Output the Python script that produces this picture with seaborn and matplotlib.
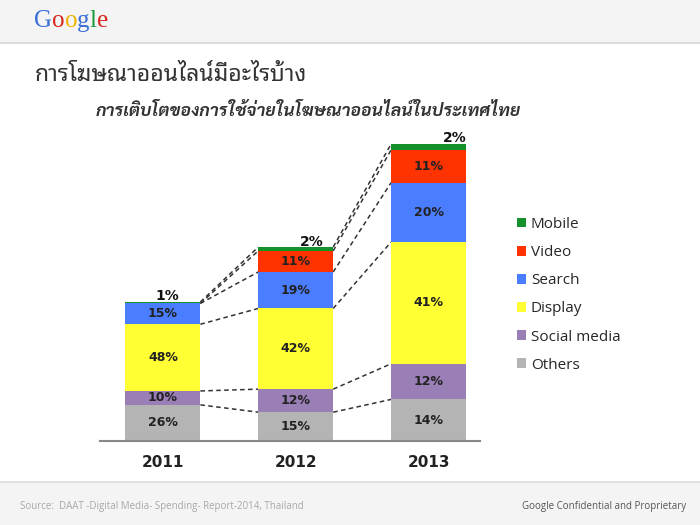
import matplotlib
matplotlib.use("Agg")
import matplotlib.pyplot as plt
from matplotlib.patches import Patch, Rectangle
from matplotlib.offsetbox import TextArea, HPacker, AnchoredOffsetbox
import numpy as np
import pandas as pd
import seaborn as sns

# ---------------- data ----------------
years = ["2011", "2012", "2013"]
segments = ["Others", "Social media", "Display", "Search", "Video", "Mobile"]
# relative total spend (bar heights)
totals = [139, 194, 297]
others = [26, 15, 14]
social = [10, 12, 12]
display = [48, 42, 41]
search = [15, 19, 20]
video = [0, 11, 11]
mobile = [1, 2, 2]

colors = {
    "Mobile": "#14912a",
    "Video": "#ff3300",
    "Search": "#4a7dff",
    "Display": "#ffff33",
    "Social media": "#9a7eb6",
    "Others": "#b4b4b4",
}

title = "การโฆษณาออนไลน์มีอะไรบ้าง"
subtitle = "การเติบโตของการใช้จ่ายในโฆษณาออนไลน์ในประเทศไทย"
source = "Source:  DAAT -Digital Media- Spending- Report-2014, Thailand"
confidential = "Google Confidential and Proprietary"

# ---------------- derived table ----------------
pct = pd.DataFrame({"Others": others, "Social media": social, "Display": display,
                    "Search": search, "Video": video, "Mobile": mobile}, index=years)
heights = pct.div(pct.sum(axis=1), axis=0).mul(totals, axis=0)
cum = heights.cumsum(axis=1)

sns.set_theme(style="white")
plt.rcParams["font.family"] = ["Open Sans", "DejaVu Sans"]

W, H = 700, 525
fig = plt.figure(figsize=(7, 5.25), dpi=100)

# header / footer bands
fig.patches.append(Rectangle((0, 1 - 42 / H), 1, 42 / H, transform=fig.transFigure,
                             facecolor="#f4f4f4", edgecolor="none", zorder=0))
fig.patches.append(Rectangle((0, 1 - 44 / H), 1, 2 / H, transform=fig.transFigure,
                             facecolor="#dcdcdc", edgecolor="none", zorder=0))
fig.patches.append(Rectangle((0, 0), 1, 42 / H, transform=fig.transFigure,
                             facecolor="#f4f4f4", edgecolor="none", zorder=0))
fig.patches.append(Rectangle((0, 42 / H), 1, 2 / H, transform=fig.transFigure,
                             facecolor="#e2e2e2", edgecolor="none", zorder=0))

# Google logo
letters = list("Google")
lcols = ["#3a6fd8", "#d8271c", "#f0b400", "#3a6fd8", "#1a9a3a", "#d8271c"]
areas = [TextArea(ch, textprops=dict(color=c, fontsize=18, family="Liberation Serif"))
         for ch, c in zip(letters, lcols)]
box = HPacker(children=areas, align="baseline", pad=0, sep=0)
anch = AnchoredOffsetbox(loc="upper left", child=box, pad=0, frameon=False,
                         bbox_to_anchor=(34 / W, 1 - 10 / H), bbox_transform=fig.transFigure,
                         borderpad=0)
fig.add_artist(anch)

# titles
fig.text(35 / W, 1 - 75 / H, title, fontsize=16.5, family=["Noto Sans Thai Looped", "Loma"],
         fontweight="light", color="#333333", va="center", ha="left")
fig.text(96 / W, 1 - 112 / H, subtitle, fontsize=12.6, family=["Sarabun", "Loma"],
         fontweight="bold", style="italic", color="#333333", va="center", ha="left")

# ---------------- bars ----------------
ax = fig.add_axes([100 / W, (H - 441) / H, 380 / W, (441 - 128) / H])
order = segments[::-1]  # draw tallest cumulative first
long_rows = []
for seg in segments:
    for y in years:
        long_rows.append({"year": y, "segment": seg, "top": cum.loc[y, seg]})
long = pd.DataFrame(long_rows)
bar_w = 75 / 133
for seg in order:
    sub = long[long["segment"] == seg]
    sns.barplot(data=sub, x="year", y="top", order=years, color=colors[seg],
                width=bar_w, ax=ax, linewidth=0, saturation=1, zorder=2)

# dashed connectors
xs = np.arange(len(years))
for i in range(len(years) - 1):
    for seg in segments:
        y0 = cum.loc[years[i], seg]
        y1 = cum.loc[years[i + 1], seg]
        ax.plot([xs[i] + bar_w / 2, xs[i + 1] - bar_w / 2], [y0, y1],
                ls=(0, (3.0, 2.2)), color="#333333", lw=1.1, zorder=1)

# labels
for i, y in enumerate(years):
    base = 0
    for seg in segments:
        h = heights.loc[y, seg]
        v = pct.loc[y, seg]
        if seg == "Mobile":
            dx = [0.03, 0.12, 0.2][i]
            ax.text(xs[i] + dx, base + h - 1.5, f"{v}%", ha="center", va="bottom",
                    fontsize=10, fontweight="bold", color="#111111", family="DejaVu Sans")
        elif v > 0:
            ax.text(xs[i], base + h / 2, f"{v}%", ha="center", va="center",
                    fontsize=9, fontweight="bold", color="#222222", family="DejaVu Sans")
        base += h

ax.set_xlim(-63 / 133, 2 + 51.5 / 133)
ax.set_ylim(0, 441 - 128)
ax.set_xlabel("")
ax.set_ylabel("")
ax.set_yticks([])
ax.set_xticks(xs)
ax.set_xticklabels(years, fontsize=11, fontweight="bold", color="#222222", family="DejaVu Sans")
ax.tick_params(axis="x", length=0, pad=10)
for s in ["top", "right", "left"]:
    ax.spines[s].set_visible(False)
ax.spines["bottom"].set_color("#888888")
ax.spines["bottom"].set_linewidth(1.5)
ax.set_facecolor("none")

# legend
handles = [Patch(facecolor=colors[s], edgecolor="none", label=s) for s in order]
fig.legend(handles=handles, loc="upper left", bbox_to_anchor=(517 / W, 1 - 217 / H),
           frameon=False, fontsize=11, handlelength=0.6, handleheight=0.6,
           handletextpad=0.3, labelspacing=0.86, borderaxespad=0, borderpad=0)

# footer
fig.text(20 / W, 1 - 506 / H, source, fontsize=7, color="#a8a8a8", va="center", ha="left")
fig.text(686 / W, 1 - 506 / H, confidential, fontsize=7, color="#555555", va="center", ha="right")

fig.savefig("out.png", dpi=100)
